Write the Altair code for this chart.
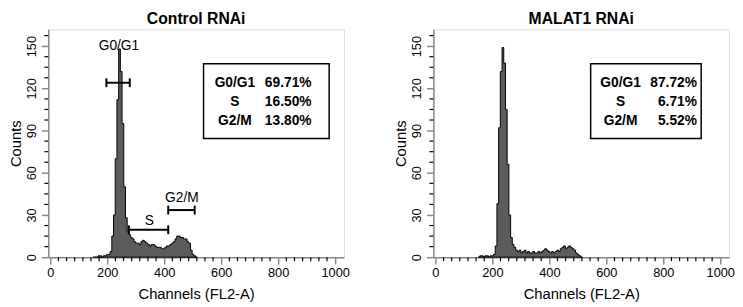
import altair as alt
import pandas as pd

FONT = "Liberation Sans"

# ---------------- data ----------------
bin_starts = list(range(150, 522, 6))  # FL2-A channel bins (width 6)

control_counts = [
    0, 0, 0, 1, 1, 0, 1, 1, 2, 2,
    4, 15, 30, 70, 112, 148, 132, 95, 50, 28,
    18, 16, 14, 13, 11, 10, 10, 9, 11, 12,
    11, 10, 9, 8, 9, 9, 8, 7, 7, 7,
    6, 6, 7, 8, 8, 9, 10, 11, 13, 15,
    15, 14, 14, 13, 13, 11, 10, 5, 2, 1,
    0, 0,
]
malat1_counts = [
    0, 1, 1, 0, 1, 1, 0, 1, 1, 2,
    8, 38, 92, 132, 149, 138, 105, 66, 30, 14,
    9, 7, 5, 4, 5, 3, 4, 5, 3, 4,
    3, 3, 4, 3, 3, 4, 3, 4, 5, 6,
    5, 4, 3, 4, 3, 4, 5, 4, 6, 7,
    8, 6, 7, 8, 7, 6, 5, 3, 2, 1,
    0, 0,
]

phases = ["G0/G1", "S", "G2/M"]
control_pct = ["69.71%", "16.50%", "13.80%"]
malat1_pct = ["87.72%", "6.71%", "5.52%"]

# gate markers on the control histogram (channel range, count level)
gate_names = ["G0/G1", "S", "G2/M"]
gate_x1 = [197, 276, 414]
gate_x2 = [279, 414, 507]
gate_y = [124, 19.5, 33.5]
gate_label_x = [241, 348, 462]
gate_label_y = [150, 26, 42]

# statistics box extents (data units)
box_y = [84.4, 137.5]
control_box_x = [538, 979]
malat1_box_x = [545, 933]
row_y = [123.5, 110, 96.5]
control_lab_x, control_val_x = 648, 917
malat1_lab_x, malat1_val_x = 650, 918

x_major = [0, 200, 400, 600, 800, 1000]
y_major = [0, 30, 60, 90, 120, 150]
x_minor = [round(k * 200 / 7, 2) for k in range(36) if k % 7 != 0]
y_minor = [v + d for v in [0, 30, 60, 90, 120, 150] for d in (7.5, 15, 22.5) if v + d < 162]

W, H = 301, 232
xs = alt.Scale(domain=[-7, 1031], nice=False, zero=False)
ys = alt.Scale(domain=[0, 162], nice=False, zero=False)
XT, YT = "Channels (FL2-A)", "Counts"


def panel(title, counts, box_x, lab_x, val_x, pcts, annotate):
    hist_df = pd.DataFrame({"ch": bin_starts, "n": counts})
    hist = alt.Chart(hist_df).mark_area(
        interpolate="step-after", fill="#5c5c5c", stroke="black", strokeWidth=1
    ).encode(
        x=alt.X("ch:Q", scale=xs, title=XT, axis=alt.Axis(
            values=x_major, format="d", grid=False,
            tickSize=7, tickWidth=1.5, domainWidth=1.5, labelPadding=3,
            labelFontSize=13, titleFontSize=15, titleFontWeight="normal",
            titlePadding=7, labelFlush=False)),
        y=alt.Y("n:Q", scale=ys, title=YT, axis=alt.Axis(
            values=y_major, format="d", grid=False, labelAngle=270,
            tickSize=7, tickWidth=1.5, domainWidth=1.5, labelPadding=3,
            labelFontSize=13, titleFontSize=15, titleFontWeight="normal",
            titlePadding=2)),
    )
    xminor = alt.Chart(pd.DataFrame({"t": x_minor})).mark_rule(
        color="black", strokeWidth=1.2
    ).encode(
        x=alt.X("t:Q", scale=xs, title=XT),
        y=alt.value(H), y2=alt.value(H + 4),
    )
    yminor = alt.Chart(pd.DataFrame({"t": y_minor})).mark_rule(
        color="black", strokeWidth=1.2
    ).encode(
        y=alt.Y("t:Q", scale=ys, title=YT),
        x=alt.value(0), x2=alt.value(-4),
    )
    box = alt.Chart(pd.DataFrame({
        "x1": [box_x[0]], "x2": [box_x[1]], "y1": [box_y[0]], "y2": [box_y[1]]
    })).mark_rect(fill="white", stroke="black", strokeWidth=1.5).encode(
        x=alt.X("x1:Q", scale=xs, title=XT), x2="x2:Q",
        y=alt.Y("y1:Q", scale=ys, title=YT), y2="y2:Q",
    )
    rows = pd.DataFrame({"lab": phases, "val": pcts, "y": row_y,
                         "lx": [lab_x] * 3, "vx": [val_x] * 3})
    labs = alt.Chart(rows).mark_text(
        font=FONT, fontSize=14, fontWeight="bold", align="center",
        baseline="middle", color="black"
    ).encode(x=alt.X("lx:Q", scale=xs, title=XT),
             y=alt.Y("y:Q", scale=ys, title=YT), text="lab:N")
    vals = alt.Chart(rows).mark_text(
        font=FONT, fontSize=14, fontWeight="bold", align="right",
        baseline="middle", color="black"
    ).encode(x=alt.X("vx:Q", scale=xs, title=XT),
             y=alt.Y("y:Q", scale=ys, title=YT), text="val:N")
    layers = [hist, xminor, yminor, box, labs, vals]
    if annotate:
        gdf = pd.DataFrame({"name": gate_names, "x1": gate_x1, "x2": gate_x2,
                            "y": gate_y, "lx": gate_label_x, "ly": gate_label_y})
        bars = alt.Chart(gdf).mark_rule(color="black", strokeWidth=2).encode(
            x=alt.X("x1:Q", scale=xs, title=XT), x2="x2:Q",
            y=alt.Y("y:Q", scale=ys, title=YT))
        caps_df = pd.DataFrame({"x": gate_x1 + gate_x2, "y": gate_y + gate_y})
        caps = alt.Chart(caps_df).mark_rule(
            color="black", strokeWidth=2, yOffset=-4.5, y2Offset=4.5
        ).encode(x=alt.X("x:Q", scale=xs, title=XT),
                 y=alt.Y("y:Q", scale=ys, title=YT), y2="y:Q")
        glab = alt.Chart(gdf).mark_text(
            font=FONT, fontSize=14, align="center", baseline="middle", color="black"
        ).encode(x=alt.X("lx:Q", scale=xs, title=XT),
                 y=alt.Y("ly:Q", scale=ys, title=YT), text="name:N")
        layers += [bars, caps, glab]
    return alt.layer(*layers).properties(
        width=W, height=H,
        title=alt.TitleParams(title, font=FONT, fontSize=16, fontWeight="bold",
                              color="black", offset=2, anchor="middle"),
    )


left = panel("Control RNAi", control_counts, control_box_x,
             control_lab_x, control_val_x, control_pct, True)
right = panel("MALAT1 RNAi", malat1_counts, malat1_box_x,
              malat1_lab_x, malat1_val_x, malat1_pct, False)

chart = alt.hconcat(left, right, spacing=44).configure_view(
    stroke="black", strokeWidth=1.5
).configure_axis(
    labelFont=FONT, titleFont=FONT, labelColor="black", titleColor="black",
    domainColor="black", tickColor="black", grid=False,
).configure(background="white", padding=0)

chart.save("out.html", embed_options={"renderer": "svg", "actions": False})
